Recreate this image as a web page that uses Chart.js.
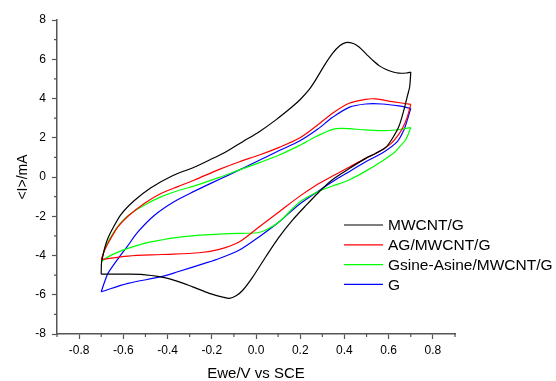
<!DOCTYPE html>
<html><head><meta charset="utf-8">
<script src="https://cdn.jsdelivr.net/npm/chart.js@4/dist/chart.umd.min.js"></script>
<style>html,body{margin:0;padding:0;background:#fff}</style>
</head><body>
<canvas id="c" width="556" height="381"></canvas>
<script>
// ---- Data (potential E in V vs SCE, current I in mA) ----
const seriesNames = ['MWCNT/G', 'AG/MWCNT/G', 'Gsine-Asine/MWCNT/G', 'G'];
const seriesColors = ['#000000', '#ff0000', '#00ff00', '#0000ff'];

const mwcntFwdE = [-0.70,-0.699,-0.692,-0.684,-0.669,-0.647,-0.61,-0.55,-0.475,-0.38,-0.28,-0.21,-0.135,-0.06,0.015,0.09,0.165,0.20,0.24,0.27,0.31,0.346,0.38,0.406,0.44,0.466,0.50,0.526,0.56,0.586,0.62,0.646,0.68,0.70];
const mwcntFwdI = [-4.95,-4.4,-4.0,-3.6,-3.1,-2.6,-1.9,-1.2,-0.55,0.05,0.5,0.87,1.29,1.8,2.31,2.91,3.59,3.95,4.45,4.95,5.7,6.3,6.7,6.85,6.8,6.62,6.25,5.97,5.65,5.49,5.35,5.29,5.3,5.35];
const mwcntRevE = [0.70,0.695,0.684,0.669,0.646,0.616,0.586,0.54,0.496,0.42,0.344,0.286,0.226,0.165,0.105,0.045,-0.015,-0.06,-0.09,-0.12,-0.15,-0.211,-0.286,-0.361,-0.436,-0.511,-0.586,-0.70];
const mwcntRevI = [5.35,4.6,4.1,3.42,2.57,1.95,1.5,1.2,0.95,0.42,-0.15,-0.75,-1.45,-2.2,-3.05,-4.05,-5.1,-5.77,-6.05,-6.18,-6.12,-5.93,-5.6,-5.29,-5.08,-4.97,-4.95,-4.95];

const agFwdE = [-0.70,-0.685,-0.669,-0.645,-0.624,-0.579,-0.504,-0.428,-0.354,-0.278,-0.166,-0.075,0.015,0.105,0.195,0.27,0.346,0.421,0.496,0.541,0.616,0.70];
const agFwdI = [-4.2,-3.75,-3.38,-2.9,-2.53,-2.0,-1.34,-0.83,-0.49,-0.15,0.39,0.78,1.12,1.51,1.97,2.57,3.25,3.76,3.96,3.98,3.84,3.7];
const agRevE = [0.70,0.684,0.661,0.631,0.61,0.58,0.541,0.496,0.421,0.346,0.27,0.195,0.105,0.015,-0.075,-0.166,-0.256,-0.428,-0.579,-0.70];
const agRevI = [3.7,3.05,2.45,1.95,1.7,1.45,1.2,0.95,0.5,0.05,-0.43,-1.0,-1.77,-2.53,-3.3,-3.69,-3.86,-3.95,-4.03,-4.2];

const gsFwdE = [-0.70,-0.685,-0.669,-0.645,-0.624,-0.579,-0.504,-0.428,-0.354,-0.278,-0.166,-0.075,0.015,0.105,0.195,0.27,0.346,0.39,0.496,0.586,0.65,0.70];
const gsFwdI = [-4.3,-3.7,-3.3,-2.85,-2.5,-1.97,-1.43,-1.0,-0.7,-0.45,-0.02,0.36,0.73,1.12,1.6,2.05,2.43,2.48,2.4,2.36,2.42,2.52];
const gsRevE = [0.70,0.677,0.65,0.631,0.571,0.496,0.421,0.346,0.27,0.195,0.105,0.045,0.007,-0.075,-0.166,-0.256,-0.354,-0.428,-0.504,-0.579,-0.654,-0.70];
const gsRevI = [2.52,1.9,1.55,1.3,0.82,0.3,-0.15,-0.46,-0.8,-1.3,-2.28,-2.7,-2.84,-2.87,-2.91,-2.96,-3.08,-3.21,-3.38,-3.64,-3.98,-4.3];

const gFwdE = [-0.70,-0.685,-0.669,-0.617,-0.586,-0.534,-0.459,-0.369,-0.278,-0.20,-0.12,0.015,0.105,0.195,0.278,0.346,0.421,0.496,0.571,0.646,0.70];
const gFwdI = [-5.85,-5.35,-4.9,-4.06,-3.6,-2.8,-1.95,-1.25,-0.72,-0.3,0.12,0.85,1.35,1.82,2.43,3.04,3.55,3.72,3.72,3.62,3.5];
const gRevE = [0.70,0.684,0.669,0.639,0.575,0.496,0.421,0.346,0.278,0.195,0.105,0.015,-0.075,-0.166,-0.233,-0.354,-0.428,-0.579,-0.70];
const gRevI = [3.5,2.9,2.4,1.8,1.25,0.78,0.27,-0.24,-0.75,-1.4,-2.28,-3.04,-3.72,-4.15,-4.4,-4.83,-5.08,-5.42,-5.85];

const xMajorTicks = [-0.8,-0.6,-0.4,-0.2,0.0,0.2,0.4,0.6,0.8];
const xMinorTicks = [-0.9,-0.7,-0.5,-0.3,-0.1,0.1,0.3,0.5,0.7,0.9];
const yMajorTicks = [-8,-6,-4,-2,0,2,4,6,8];
const yMinorTicks = [-7,-5,-3,-1,1,3,5,7];

// ---- Build datasets ----
const sweeps = [
  [mwcntFwdE, mwcntFwdI, mwcntRevE, mwcntRevI],
  [agFwdE, agFwdI, agRevE, agRevI],
  [gsFwdE, gsFwdI, gsRevE, gsRevI],
  [gFwdE, gFwdI, gRevE, gRevI]
];
const toPts = (E, I) => E.map((e, k) => ({x: e, y: I[k]}));
const datasets = [];
sweeps.forEach((s, i) => {
  [[s[0], s[1]], [s[2], s[3]]].forEach(([E, I], j) => {
    datasets.push({
      label: j === 0 ? seriesNames[i] : '',
      data: toPts(E, I),
      showLine: true, fill: false,
      borderColor: seriesColors[i], backgroundColor: seriesColors[i],
      borderWidth: 1.2, pointRadius: 0, tension: 0.3
    });
  });
});

const FONT = 'Arial, "Liberation Sans", sans-serif';
const AXIS = '#555';

const minorTicks = {
  id: 'minorTicks',
  afterDraw(chart) {
    const {ctx, scales: {x, y}, chartArea: a} = chart;
    ctx.save();
    ctx.strokeStyle = AXIS; ctx.lineWidth = 1.2;
    ctx.beginPath();
    xMinorTicks.forEach(v => { const p = x.getPixelForValue(v); ctx.moveTo(p, a.bottom); ctx.lineTo(p, a.bottom + 3); });
    yMinorTicks.forEach(v => { const p = y.getPixelForValue(v); ctx.moveTo(a.left, p); ctx.lineTo(a.left - 3, p); });
    ctx.stroke();
    ctx.restore();
  }
};

const legendBox = {
  id: 'legendBox',
  afterDraw(chart) {
    const {ctx, chartArea: a} = chart;
    const x0 = a.right - 111, y0 = a.top + 205, dy = 19.8;
    ctx.save();
    seriesNames.forEach((name, i) => {
      const yy = y0 + i * dy;
      ctx.strokeStyle = seriesColors[i]; ctx.lineWidth = 1.2;
      ctx.beginPath(); ctx.moveTo(x0, yy); ctx.lineTo(x0 + 39, yy); ctx.stroke();
      ctx.fillStyle = '#000'; ctx.font = '15.5px ' + FONT;
      ctx.textBaseline = 'middle'; ctx.textAlign = 'left';
      ctx.fillText(name, x0 + 44, yy + 1);
    });
    ctx.restore();
  }
};

new Chart(document.getElementById('c'), {
  type: 'scatter',
  data: {datasets},
  plugins: [minorTicks, legendBox],
  options: {
    responsive: false, animation: false, devicePixelRatio: 1,
    layout: {padding: {top: 20, right: 101, left: 0, bottom: 0}},
    plugins: {legend: {display: false}, tooltip: {enabled: false}},
    scales: {
      x: {
        type: 'linear', min: -0.9, max: 0.9,
        afterBuildTicks: s => { s.ticks = xMajorTicks.map(v => ({value: v})); },
        afterFit: s => { s.height = 47; },
        ticks: {callback: v => Number(v).toFixed(1), font: {size: 12, family: FONT}, color: '#000', padding: 4, maxRotation: 0, autoSkip: false},
        grid: {drawOnChartArea: false, tickLength: 5, tickColor: AXIS, tickWidth: 1.2},
        border: {color: AXIS, width: 1.5},
        title: {display: true, text: 'Ewe/V vs SCE', font: {size: 15, family: FONT, lineHeight: 1}, color: '#000', padding: {top: 0, bottom: 0}}
      },
      y: {
        type: 'linear', min: -8, max: 8,
        afterBuildTicks: s => { s.ticks = yMajorTicks.map(v => ({value: v})); },
        afterFit: s => { s.width = 57; },
        ticks: {font: {size: 12, family: FONT}, color: '#000', padding: 6, autoSkip: false},
        grid: {drawOnChartArea: false, tickLength: 5, tickColor: AXIS, tickWidth: 1.2},
        border: {color: AXIS, width: 1.5},
        title: {display: true, text: '<I>/mA', font: {size: 14, family: FONT, lineHeight: 1}, color: '#000', padding: {top: 16, bottom: 0}}
      }
    }
  }
});
</script>
</body></html>
